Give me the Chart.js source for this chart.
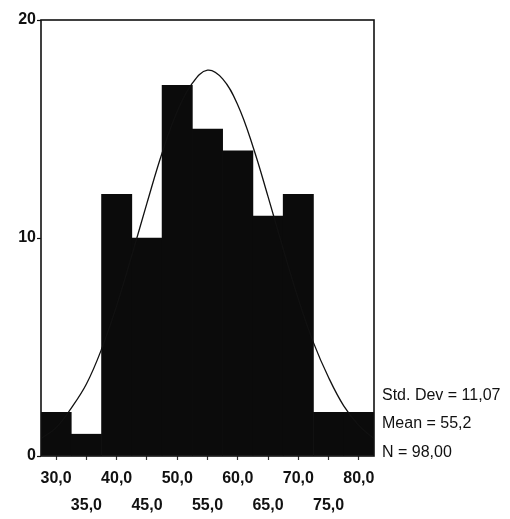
<!DOCTYPE html>
<html><head><meta charset="utf-8">
<script src="https://cdn.jsdelivr.net/npm/chart.js@4"></script>
<style>
html,body{margin:0;padding:0;background:#fff;}
#wrap{position:relative;width:510px;height:519px;}
canvas{display:block;}
.stat{position:absolute;left:382px;font:16px "Liberation Sans",Arial,sans-serif;color:#111;white-space:nowrap;line-height:1;}
</style></head><body>
<div id="wrap"><canvas id="c" width="510" height="519"></canvas></div>
<script>
// Histogram bins (centre of each 5-unit bin) and counts
const binCenters = [30, 35, 40, 45, 50, 55, 60, 65, 70, 75, 80];
const binCounts  = [2, 1, 12, 10, 17, 15, 14, 11, 12, 2, 2];
// Normal curve points
const curveX = [27.5, 30, 32.5, 35, 37.5, 40, 42.5, 45, 47.5, 50, 52.5, 55, 57.5, 60, 62.5, 65, 67.5, 70, 72.5, 75, 77.5, 80, 82.5];
const curveY = [0.8, 1.3, 2.2, 3.3, 4.9, 6.9, 9.2, 11.6, 13.9, 15.8, 17.1, 17.7, 17.3, 16.1, 14.2, 11.9, 9.5, 7.2, 5.2, 3.6, 2.3, 1.4, 0.8];
// Axis ticks
const xTickValues = [30, 35, 40, 45, 50, 55, 60, 65, 70, 75, 80];
const xTickLabels = ['30,0', '35,0', '40,0', '45,0', '50,0', '55,0', '60,0', '65,0', '70,0', '75,0', '80,0'];
const yTickValues = [0, 10, 20];
const yTickLabels = ['0', '10', '20'];
// Statistics legend
const statLines = ['Std. Dev = 11,07', 'Mean = 55,2', 'N = 98,00'];
const statTops = [387, 415, 444];

const wrap = document.getElementById('wrap');
statLines.forEach((t, i) => {
  const d = document.createElement('div');
  d.className = 'stat';
  d.style.top = statTops[i] + 'px';
  d.textContent = t;
  wrap.appendChild(d);
});

const FONT = '"Liberation Sans", Arial, sans-serif';

const framePlugin = {
  id: 'frame',
  afterDatasetsDraw(chart) {
    const {ctx, chartArea: a} = chart;
    ctx.save();
    ctx.strokeStyle = '#111';
    ctx.lineWidth = 1.6;
    ctx.strokeRect(a.left, a.top, a.right - a.left, a.bottom - a.top);
    ctx.restore();
  }
};

new Chart(document.getElementById('c'), {
  type: 'bar',
  data: {
    datasets: [
      {
        type: 'line',
        data: curveX.map((x, i) => ({x, y: curveY[i]})),
        borderColor: '#111',
        borderWidth: 1.3,
        pointRadius: 0,
        tension: 0.4,
        fill: false,
        order: 0
      },
      {
        type: 'bar',
        data: binCenters.map((x, i) => ({x, y: binCounts[i]})),
        backgroundColor: '#0b0b0b',
        borderWidth: 0,
        barPercentage: 1,
        categoryPercentage: 1,
        order: 1
      }
    ]
  },
  options: {
    responsive: false,
    animation: false,
    devicePixelRatio: 1,
    layout: {padding: {left: 0, right: 136, top: 20, bottom: 0}},
    plugins: {legend: {display: false}, tooltip: {enabled: false}},
    scales: {
      x: {
        type: 'linear',
        min: 27.5,
        max: 82.5,
        offset: false,
        afterBuildTicks(scale) { scale.ticks = xTickValues.map(v => ({value: v})); },
        afterFit(scale) { scale.height = 63; },
        border: {display: false},
        grid: {offset: false, drawOnChartArea: false, drawTicks: true, tickLength: 4, color: '#333', tickWidth: 1.2},
        ticks: {
          autoSkip: false,
          maxRotation: 0,
          minRotation: 0,
          padding: 5,
          color: '#111',
          font: {family: FONT, size: 16, weight: 'bold', lineHeight: 1.6875},
          callback(value) {
            const i = xTickValues.indexOf(value);
            if (i < 0) return '';
            return i % 2 === 0 ? xTickLabels[i] : ['', xTickLabels[i]];
          }
        }
      },
      y: {
        min: 0,
        max: 20,
        afterBuildTicks(scale) { scale.ticks = yTickValues.map(v => ({value: v})); },
        afterFit(scale) { scale.width = 41; },
        border: {display: false},
        grid: {drawOnChartArea: false, drawTicks: true, tickLength: 4, color: '#111', tickWidth: 1.2},
        ticks: {
          padding: 1,
          color: '#111',
          font: {family: FONT, size: 16, weight: 'bold'},
          callback(value) {
            const i = yTickValues.indexOf(value);
            return i < 0 ? '' : yTickLabels[i];
          }
        }
      }
    }
  },
  plugins: [framePlugin]
});
</script>
</body></html>
